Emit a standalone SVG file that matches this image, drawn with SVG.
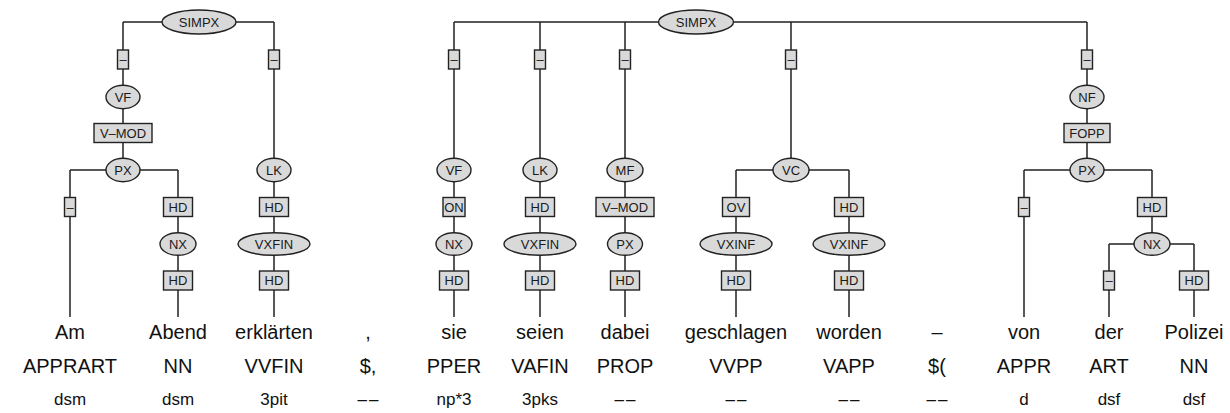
<svg xmlns="http://www.w3.org/2000/svg" width="1230" height="413" viewBox="0 0 1230 413">
<style>
.e{fill:#d9d9d9;stroke:#222;stroke-width:1.4}
.b{fill:#d9d9d9;stroke:#222;stroke-width:1.4}
.l{font-family:"Liberation Sans",Arial,sans-serif;font-size:13px;fill:#1a1a1a;text-anchor:middle}
.w{font-family:"Liberation Sans",Arial,sans-serif;font-size:20px;fill:#111;text-anchor:middle}
.m{font-family:"Liberation Sans",Arial,sans-serif;font-size:17px;fill:#111;text-anchor:middle}
.d{letter-spacing:2px}
#connectors path{fill:none;stroke:#222;stroke-width:1.5}
</style>
<rect width="1230" height="413" fill="#fff"/>
<g id="connectors">
<path d="M123,22H274M123,22V170M274,22V317"/>
<path d="M70,170H178M70,170V317M178,170V317"/>
<path d="M454,22H1087M454,22V317M540,22V317M625,22V317M791,22V170"/>
<path d="M736,170H849M736,170V317M849,170V317"/>
<path d="M1087,22V170M1024,170H1152M1024,170V317M1152,170V244"/>
<path d="M1109,244H1194M1109,244V317M1194,244V317"/>
</g>
<!-- left tree -->
<g id="simpx1"><ellipse class="e" cx="199" cy="22" rx="37" ry="12"/><text class="l" x="199" y="26.5">SIMPX</text></g>
<g id="e1"><rect class="b" x="117.5" y="50" width="11" height="19"/><text class="l" x="123" y="64">–</text></g>
<g id="e2"><rect class="b" x="268.5" y="50" width="11" height="19"/><text class="l" x="274" y="64">–</text></g>
<g id="vf1"><ellipse class="e" cx="123" cy="97" rx="17" ry="11.7"/><text class="l" x="123" y="101.5">VF</text></g>
<g id="vmod1"><rect class="b" x="94" y="123.5" width="58" height="19"/><text class="l" x="123" y="137.5">V–MOD</text></g>
<g id="px1"><ellipse class="e" cx="123" cy="170" rx="17" ry="11.7"/><text class="l" x="123" y="174.5">PX</text></g>
<g id="e3"><rect class="b" x="64.5" y="197.5" width="11" height="19"/><text class="l" x="70" y="211.5">–</text></g>
<g id="hd1"><rect class="b" x="163.5" y="197.5" width="29" height="19"/><text class="l" x="178" y="211.5">HD</text></g>
<g id="nx1"><ellipse class="e" cx="178" cy="244" rx="18" ry="11.3"/><text class="l" x="178" y="248.5">NX</text></g>
<g id="hd2"><rect class="b" x="163.5" y="271" width="29" height="19"/><text class="l" x="178" y="285">HD</text></g>
<g id="lk1"><ellipse class="e" cx="274" cy="170" rx="17" ry="11.7"/><text class="l" x="274" y="174.5">LK</text></g>
<g id="hd3"><rect class="b" x="259.5" y="197.5" width="29" height="19"/><text class="l" x="274" y="211.5">HD</text></g>
<g id="vxfin1"><ellipse class="e" cx="274" cy="244" rx="36" ry="11.3"/><text class="l" x="274" y="248.5">VXFIN</text></g>
<g id="hd4"><rect class="b" x="259.5" y="271" width="29" height="19"/><text class="l" x="274" y="285">HD</text></g>
<!-- middle tree -->
<g id="simpx2"><ellipse class="e" cx="696" cy="22" rx="37.5" ry="12"/><text class="l" x="696" y="26.5">SIMPX</text></g>
<g id="e4"><rect class="b" x="448.5" y="50" width="11" height="19"/><text class="l" x="454" y="64">–</text></g>
<g id="e5"><rect class="b" x="534.5" y="50" width="11" height="19"/><text class="l" x="540" y="64">–</text></g>
<g id="e6"><rect class="b" x="619.5" y="50" width="11" height="19"/><text class="l" x="625" y="64">–</text></g>
<g id="e7"><rect class="b" x="785.5" y="50" width="11" height="19"/><text class="l" x="791" y="64">–</text></g>
<g id="e8"><rect class="b" x="1081.5" y="50" width="11" height="19"/><text class="l" x="1087" y="64">–</text></g>
<g id="vf2"><ellipse class="e" cx="454" cy="170" rx="17" ry="11.7"/><text class="l" x="454" y="174.5">VF</text></g>
<g id="on1"><rect class="b" x="443" y="197.5" width="22" height="19"/><text class="l" x="454" y="211.5">ON</text></g>
<g id="nx2"><ellipse class="e" cx="454" cy="244" rx="18" ry="11.3"/><text class="l" x="454" y="248.5">NX</text></g>
<g id="hd5"><rect class="b" x="439.5" y="271" width="29" height="19"/><text class="l" x="454" y="285">HD</text></g>
<g id="lk2"><ellipse class="e" cx="540" cy="170" rx="17" ry="11.7"/><text class="l" x="540" y="174.5">LK</text></g>
<g id="hd6"><rect class="b" x="525.5" y="197.5" width="29" height="19"/><text class="l" x="540" y="211.5">HD</text></g>
<g id="vxfin2"><ellipse class="e" cx="540" cy="244" rx="36" ry="11.3"/><text class="l" x="540" y="248.5">VXFIN</text></g>
<g id="hd7"><rect class="b" x="525.5" y="271" width="29" height="19"/><text class="l" x="540" y="285">HD</text></g>
<g id="mf1"><ellipse class="e" cx="625" cy="170" rx="18" ry="11.7"/><text class="l" x="625" y="174.5">MF</text></g>
<g id="vmod2"><rect class="b" x="596" y="197.5" width="58" height="19"/><text class="l" x="625" y="211.5">V–MOD</text></g>
<g id="px2"><ellipse class="e" cx="625" cy="244" rx="17.5" ry="11.3"/><text class="l" x="625" y="248.5">PX</text></g>
<g id="hd8"><rect class="b" x="610.5" y="271" width="29" height="19"/><text class="l" x="625" y="285">HD</text></g>
<g id="vc1"><ellipse class="e" cx="791" cy="170" rx="18" ry="11.7"/><text class="l" x="791" y="174.5">VC</text></g>
<g id="ov1"><rect class="b" x="722.5" y="197.5" width="27" height="19"/><text class="l" x="736" y="211.5">OV</text></g>
<g id="vxinf1"><ellipse class="e" cx="736" cy="244" rx="36" ry="11.3"/><text class="l" x="736" y="248.5">VXINF</text></g>
<g id="hd9"><rect class="b" x="721.5" y="271" width="29" height="19"/><text class="l" x="736" y="285">HD</text></g>
<g id="hd10"><rect class="b" x="834.5" y="197.5" width="29" height="19"/><text class="l" x="849" y="211.5">HD</text></g>
<g id="vxinf2"><ellipse class="e" cx="849" cy="244" rx="36" ry="11.3"/><text class="l" x="849" y="248.5">VXINF</text></g>
<g id="hd11"><rect class="b" x="834.5" y="271" width="29" height="19"/><text class="l" x="849" y="285">HD</text></g>
<!-- right subtree -->
<g id="nf1"><ellipse class="e" cx="1087" cy="97" rx="17" ry="11.7"/><text class="l" x="1087" y="101.5">NF</text></g>
<g id="fopp1"><rect class="b" x="1064" y="123.5" width="46" height="19"/><text class="l" x="1087" y="137.5">FOPP</text></g>
<g id="px3"><ellipse class="e" cx="1087" cy="170" rx="17" ry="11.7"/><text class="l" x="1087" y="174.5">PX</text></g>
<g id="e9"><rect class="b" x="1018.5" y="197.5" width="11" height="19"/><text class="l" x="1024" y="211.5">–</text></g>
<g id="hd12"><rect class="b" x="1137.5" y="197.5" width="29" height="19"/><text class="l" x="1152" y="211.5">HD</text></g>
<g id="nx3"><ellipse class="e" cx="1152" cy="244" rx="18" ry="11.3"/><text class="l" x="1152" y="248.5">NX</text></g>
<g id="e10"><rect class="b" x="1103.5" y="271" width="11" height="19"/><text class="l" x="1109" y="285">–</text></g>
<g id="hd13"><rect class="b" x="1179.5" y="271" width="29" height="19"/><text class="l" x="1194" y="285">HD</text></g>
<!-- tokens -->
<g id="words">
<text class="w" x="70" y="339">Am</text>
<text class="w" x="178" y="339">Abend</text>
<text class="w" x="274" y="339">erklärten</text>
<text class="w" x="368" y="339">,</text>
<text class="w" x="454" y="339">sie</text>
<text class="w" x="540" y="339">seien</text>
<text class="w" x="625" y="339">dabei</text>
<text class="w" x="736" y="339">geschlagen</text>
<text class="w" x="849" y="339">worden</text>
<text class="w" x="937" y="339">–</text>
<text class="w" x="1024" y="339">von</text>
<text class="w" x="1109" y="339">der</text>
<text class="w" x="1194" y="339">Polizei</text>
</g>
<g id="pos">
<text class="w" x="70" y="373">APPRART</text>
<text class="w" x="178" y="373">NN</text>
<text class="w" x="274" y="373">VVFIN</text>
<text class="w" x="368" y="373">$,</text>
<text class="w" x="454" y="373">PPER</text>
<text class="w" x="540" y="373">VAFIN</text>
<text class="w" x="625" y="373">PROP</text>
<text class="w" x="736" y="373">VVPP</text>
<text class="w" x="849" y="373">VAPP</text>
<text class="w" x="937" y="373">$(</text>
<text class="w" x="1024" y="373">APPR</text>
<text class="w" x="1109" y="373">ART</text>
<text class="w" x="1194" y="373">NN</text>
</g>
<g id="morph">
<text class="m" x="70" y="405">dsm</text>
<text class="m" x="178" y="405">dsm</text>
<text class="m" x="274" y="405">3pit</text>
<text class="m d" x="369" y="405">––</text>
<text class="m" x="454" y="405">np*3</text>
<text class="m" x="540" y="405">3pks</text>
<text class="m d" x="626" y="405">––</text>
<text class="m d" x="737" y="405">––</text>
<text class="m d" x="850" y="405">––</text>
<text class="m d" x="938" y="405">––</text>
<text class="m" x="1024" y="405">d</text>
<text class="m" x="1109" y="405">dsf</text>
<text class="m" x="1194" y="405">dsf</text>
</g>
</svg>
